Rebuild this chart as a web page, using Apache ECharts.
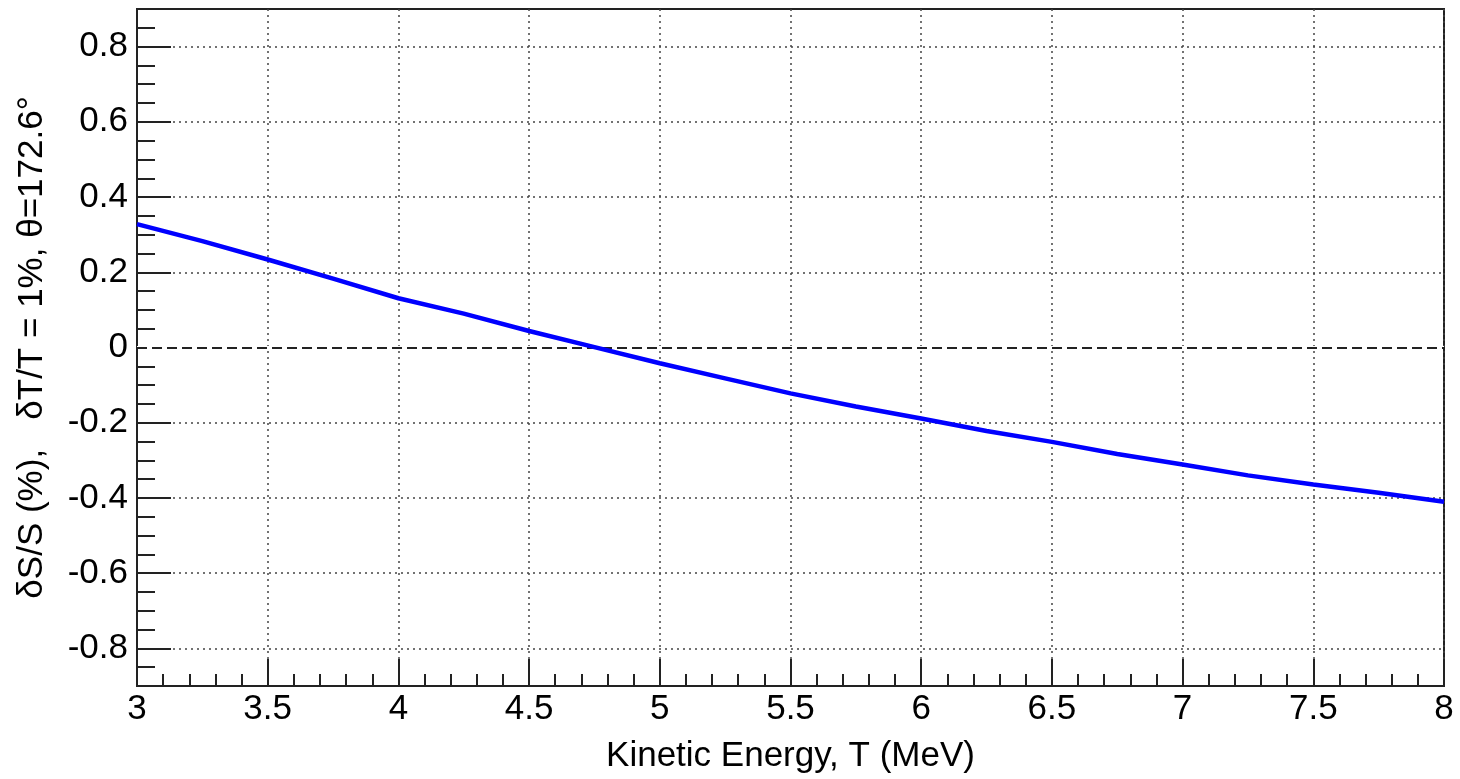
<!DOCTYPE html>
<html>
<head>
<meta charset="utf-8">
<script src="https://cdn.jsdelivr.net/npm/echarts@6/dist/echarts.min.js"></script>
<style>
html,body{margin:0;padding:0;background:#fff;}
#chart{width:1460px;height:779px;}
</style>
</head>
<body>
<div id="chart"></div>
<script>
const energies = [3.0,3.25,3.5,3.75,4.0,4.25,4.5,4.75,5.0,5.25,5.5,5.75,6.0,6.25,6.5,6.75,7.0,7.25,7.5,7.75,8.0];
const deltaS = [0.328,0.283,0.234,0.183,0.131,0.090,0.044,0.001,-0.042,-0.082,-0.122,-0.157,-0.189,-0.222,-0.251,-0.283,-0.311,-0.340,-0.364,-0.386,-0.410];
const yMajorTicks = [-0.8,-0.6,-0.4,-0.2,0,0.2,0.4,0.6,0.8];
const yTickLabels = ['-0.8','-0.6','-0.4','-0.2','0','0.2','0.4','0.6','0.8'];
const xTickLabels = ['3','3.5','4','4.5','5','5.5','6','6.5','7','7.5','8'];
const xTitle = 'Kinetic Energy, T (MeV)';
const yTitle = 'δS/S (%),   δT/T = 1%, θ=172.6°';

const FONT = 'Liberation Sans';
const FS = 35;
const chart = echarts.init(document.getElementById('chart'), null, {renderer:'canvas'});
const points = energies.map((e,i)=>[e, deltaS[i]]);

chart.setOption({
  animation:false,
  backgroundColor:'#fff',
  grid:{left:137,right:16,top:9,bottom:91,show:true,borderColor:'#222',borderWidth:2,backgroundColor:'transparent'},
  xAxis:{
    type:'value',min:3,max:8,interval:0.5,
    name:xTitle,nameLocation:'middle',nameGap:53,
    nameTextStyle:{fontFamily:FONT,fontSize:FS,color:'#000'},
    axisLine:{show:true,onZero:false,lineStyle:{color:'#222',width:2}},
    axisTick:{show:true,inside:true,length:27,lineStyle:{color:'#222',width:2}},
    minorTick:{show:true,splitNumber:5,length:12,lineStyle:{color:'#222',width:2}},
    axisLabel:{fontFamily:FONT,fontSize:FS,color:'#000',margin:6,showMinLabel:true,showMaxLabel:true,
      formatter:function(v){const i=Math.round((v-3)/0.5);return xTickLabels[i]!==undefined?xTickLabels[i]:'';}},
    splitLine:{show:true,lineStyle:{color:'#444',width:1.5,type:[2,4]}}
  },
  yAxis:[{
    type:'value',min:-0.9,max:0.9,position:'left',
    name:yTitle,nameLocation:'middle',nameGap:87,
    nameTextStyle:{fontFamily:FONT,fontSize:FS,color:'#000'},
    axisLine:{show:true,onZero:false,lineStyle:{color:'#222',width:2}},
    axisTick:{show:true,inside:true,length:34,customValues:yMajorTicks,lineStyle:{color:'#222',width:2}},
    axisLabel:{fontFamily:FONT,fontSize:FS,color:'#000',margin:9,customValues:yMajorTicks,
      formatter:function(v){const i=yMajorTicks.findIndex(t=>Math.abs(t-v)<1e-6);return i>=0?yTickLabels[i]:'';}},
    splitLine:{show:true,lineStyle:{color:'#444',width:1.5,type:[2,4]}}
  },{
    type:'value',min:-0.9,max:0.9,interval:0.05,position:'left',
    axisLine:{show:false},
    axisTick:{show:true,inside:true,length:18,lineStyle:{color:'#222',width:2}},
    axisLabel:{show:false},
    splitLine:{show:false}
  }],
  series:[{
    type:'line',xAxisIndex:0,yAxisIndex:0,data:[],silent:true,
    markLine:{silent:true,symbol:['none','none'],label:{show:false},
      lineStyle:{color:'#fff',width:3,type:'solid'},
      data:[{yAxis:0}]},
    z:3
  },{
    type:'line',xAxisIndex:0,yAxisIndex:0,data:[],silent:true,
    markLine:{silent:true,symbol:['none','none'],label:{show:false},
      lineStyle:{color:'#222',width:2,type:[10,5]},
      data:[{yAxis:0}]},
    z:4
  },{
    type:'line',xAxisIndex:0,yAxisIndex:0,data:points,showSymbol:false,smooth:false,
    lineStyle:{color:'#0000ff',width:4.5},
    z:5
  }]
});
</script>
</body>
</html>
